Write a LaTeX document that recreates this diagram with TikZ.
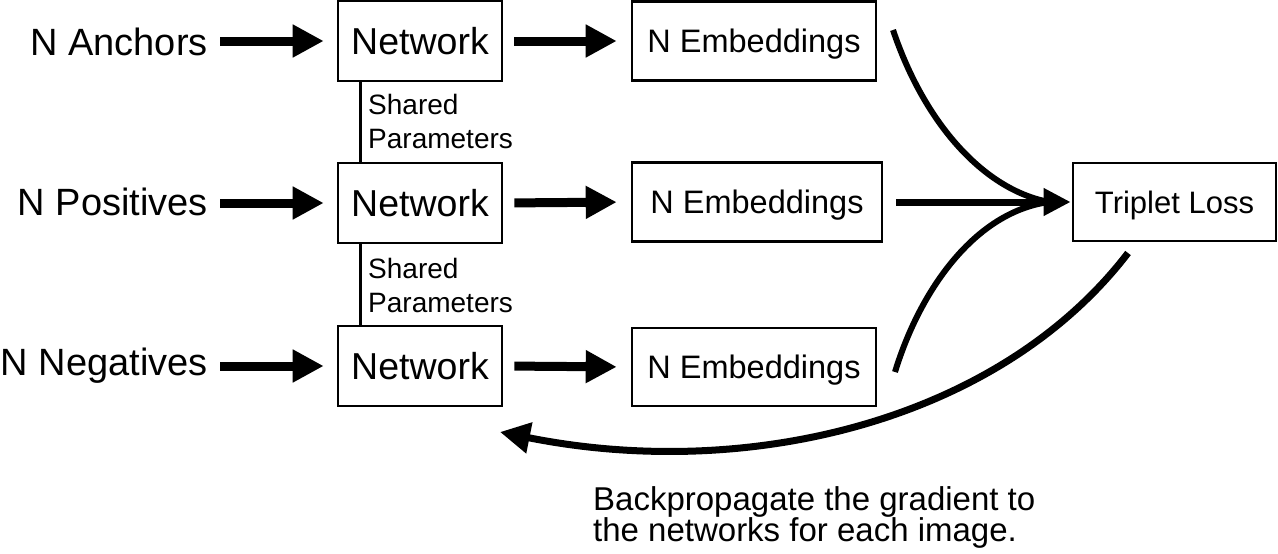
\documentclass[tikz,border=0pt]{standalone}
\usepackage{fontspec}
\setmainfont{Liberation Sans}
\usetikzlibrary{arrows.meta}
\begin{document}
\begin{tikzpicture}[x=1pt,y=-1pt,
  box/.style={draw, line width=2.6pt, inner sep=0pt, text depth=0pt},
  netbox/.style={box, minimum width=164pt, minimum height=80pt, text height=27pt, font=\fontsize{37.5}{40}\selectfont},
  embbox/.style={box, minimum width=244pt, minimum height=79pt, text height=23.4pt, font=\fontsize{32.5}{36}\selectfont},
  lossbox/.style={box, minimum width=203pt, minimum height=78pt, text height=22.3pt, font=\fontsize{31}{34}\selectfont},
  lab/.style={inner sep=0pt, anchor=base east, font=\fontsize{38}{40}\selectfont},
  small/.style={inner sep=0pt, anchor=base west, font=\fontsize{28}{30}\selectfont},
  note/.style={inner sep=0pt, anchor=base west, font=\fontsize{33}{36}\selectfont},
  bigarrow/.style={line width=9pt, -{Triangle[length=31pt,width=31pt]}},
  midarrow/.style={line width=7pt, -{Triangle[length=27pt,width=26pt]}},
  curvearrow/.style={line width=6pt},
  backarrow/.style={line width=7pt, -{Triangle[length=30pt,width=30pt]}},
  shared/.style={line width=2.5pt}
]
\useasboundingbox (0,0) rectangle (1278,554);

% labels
\node[lab] (a) at (208,55) {N Anchors};
\node[lab] (p) at (208,215) {N Positives};
\node[lab] (n) at (208,375) {N Negatives};

% networks
\node[netbox] (net1) at (420,41) {Network};
\node[netbox] (net2) at (420,203) {Network};
\node[netbox] (net3) at (420,366) {Network};

% embeddings
\node[embbox] (emb1) at (754,41) {N Embeddings};
\node[embbox, minimum width=250pt] (emb2) at (757,202) {N Embeddings};
\node[embbox, minimum height=78pt] (emb3) at (754,367) {N Embeddings};

% loss
\node[lossbox] (loss) at (1174.5,202) {Triplet Loss};

% input arrows
\draw[bigarrow, shorten <=12pt, shorten >=13pt] (a.east |- net1.west) -- (net1.west);
\draw[bigarrow, shorten <=12pt, shorten >=13pt] (p.east |- net2.west) -- (net2.west);
\draw[bigarrow, shorten <=12pt, shorten >=13pt] (n.east |- net3.west) -- (net3.west);

% network to embeddings
\draw[bigarrow, shorten <=11pt, shorten >=14pt] (net1.east) -- (emb1.west);
\draw[bigarrow, shorten <=11pt, shorten >=14pt] (net2.east) -- (emb2.west);
\draw[bigarrow, shorten <=11pt, shorten >=14pt] (net3.east) -- (emb3.west);

% shared parameters
\draw[shared] ([xshift=24pt]net1.south west) -- ([xshift=24pt]net2.north west);
\draw[shared] ([xshift=24pt]net2.south west) -- ([xshift=24pt]net3.north west);
\node[small] (s1a) at (368,114) {Shared};
\node[small] (s1b) at (368,148) {Parameters};
\node[small] (s2a) at (368,278) {Shared};
\node[small] (s2b) at (368,312) {Parameters};

% converging arrows
\coordinate (c1) at (893,30);
\coordinate (c3) at (895,372);
\coordinate (merge) at (1049,202);
\draw[curvearrow] (c1) .. controls (925,125) and (985,190) .. (merge);
\draw[curvearrow] (c3) .. controls (920,290) and (975,212) .. (merge);
\draw[midarrow, shorten <=13pt, shorten >=1pt] (emb2.east) -- (loss.west);

% backpropagation
\coordinate (b0) at (1128,253);
\coordinate (b1) at (500,432);
\draw[backarrow] (b0) .. controls (1000,420) and (750,482) .. (b1);
\node[note] (t1) at (593,510) {Backpropagate the gradient to};
\node[note] (t2) at (593,541) {the networks for each image.};
\end{tikzpicture}
\end{document}
